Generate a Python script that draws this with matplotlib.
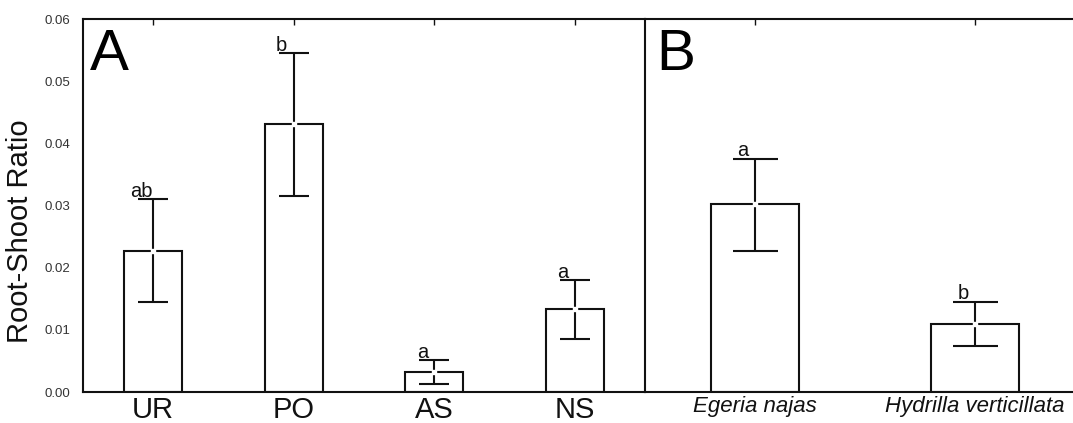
import matplotlib
matplotlib.use("Agg")
import matplotlib.pyplot as plt
from matplotlib.transforms import offset_copy

plt.rcParams['font.family'] = ['Liberation Sans', 'DejaVu Sans']

# Panel A data
cats_a = ["UR", "PO", "AS", "NS"]
mean_a = [0.0227, 0.0431, 0.0032, 0.0133]
upper_a = [0.0310, 0.0545, 0.0051, 0.0180]
lower_a = [0.0145, 0.0315, 0.0013, 0.0085]
letters_a = ["ab", "b", "a", "a"]

# Panel B data
cats_b = ["Egeria najas", "Hydrilla verticillata"]
mean_b = [0.0302, 0.0110]
upper_b = [0.0375, 0.0145]
lower_b = [0.0227, 0.0074]
letters_b = ["a", "b"]

yticks = [0.00, 0.01, 0.02, 0.03, 0.04, 0.05, 0.06]
ytick_labels = ["0.00", "0.01", "0.02", "0.03", "0.04", "0.05", "0.06"]

W, H = 1073, 423
fig = plt.figure(figsize=(W / 100, H / 100), dpi=100)

bottom = (H - 392) / H
height = (392 - 19) / H
axA = fig.add_axes([83 / W, bottom, (645 - 83) / W, height])
axB = fig.add_axes([645 / W, bottom, (1085 - 645) / W, height])
axB.patch.set_visible(False)

lw = 1.5
col = "#111111"


def draw(ax, cats, mean, upper, lower, letters, width, capsize, italic, fs):
    x = list(range(len(cats)))
    ax.bar(x, mean, width=width, facecolor="white", edgecolor=col, linewidth=lw, zorder=2)
    yerr = [[m - l for m, l in zip(mean, lower)], [u - m for m, u in zip(mean, upper)]]
    ax.errorbar(x, mean, yerr=yerr, fmt="none", ecolor=col, elinewidth=lw,
                capsize=capsize, capthick=lw, zorder=3)
    ax.plot(x, mean, linestyle="none", marker="s", markersize=2.5,
            markerfacecolor="white", markeredgecolor="white", zorder=4)
    for xi, u, t in zip(x, upper, letters):
        tr = offset_copy(ax.transData, fig=fig, x=-12 * 0.72, y=2.5 * 0.72, units="points")
        ax.text(xi, u, t, transform=tr, ha="center", va="baseline", fontsize=14.5, color=col)
    ax.set_xlim(-0.5, len(cats) - 0.5)
    ax.set_ylim(0, 0.06)
    ax.set_xticks(x)
    ax.set_xticklabels(cats, fontsize=fs,
                       style="italic" if italic else "normal", color=col)
    ax.tick_params(axis="x", direction="in", length=4, width=1, top=True, color=col, pad=3)
    for s in ax.spines.values():
        s.set_linewidth(lw)
        s.set_color(col)


draw(axA, cats_a, mean_a, upper_a, lower_a, letters_a, 0.41, 10.8, False, 21)
draw(axB, cats_b, mean_b, upper_b, lower_b, letters_b, 0.40, 16.2, True, 16)

axA.set_yticks(yticks)
axA.set_yticklabels(ytick_labels, fontsize=9.5, color="#333333")
axA.tick_params(axis="y", length=0, pad=9)
axA.set_ylabel("Root-Shoot Ratio", fontsize=21, color=col)
axA.yaxis.set_label_coords(-0.088, 0.43)

axB.set_yticks([])
axB.spines["left"].set_visible(False)
axB.spines["right"].set_visible(False)
axB.set_xlim(-0.5, 1.5)

axA.text(0.013, 0.975, "A", transform=axA.transAxes, fontsize=42, ha="left", va="top", color="black")
axB.text(0.026, 0.975, "B", transform=axB.transAxes, fontsize=42, ha="left", va="top", color="black")

fig.savefig("out.png", dpi=100)
